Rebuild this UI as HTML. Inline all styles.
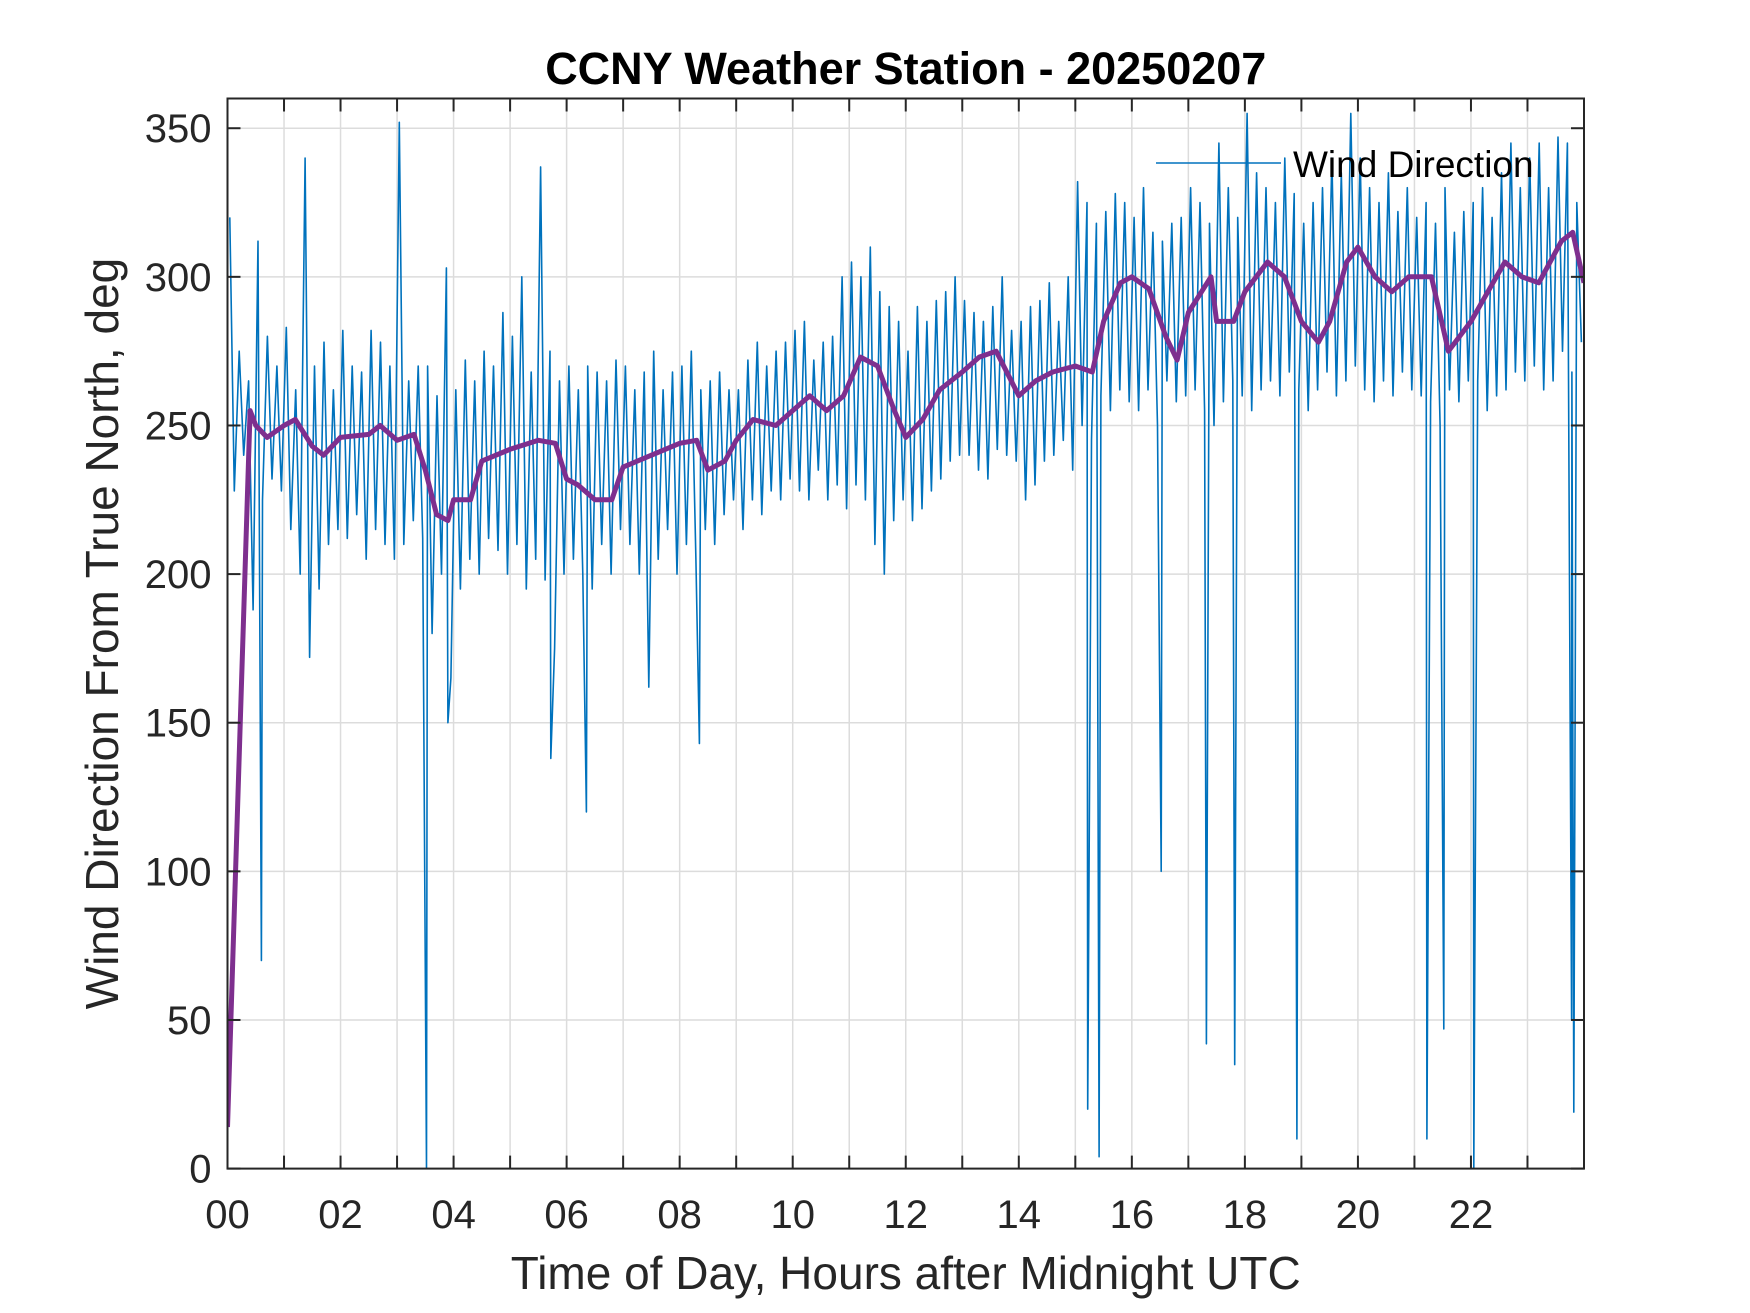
<!DOCTYPE html>
<html><head><meta charset="utf-8"><style>
html,body{margin:0;padding:0;background:#fff;}
svg{display:block;font-family:"Liberation Sans",Arial,sans-serif;}
</style></head><body>
<svg id="chart" width="1750" height="1313" viewBox="0 0 1750 1313"></svg>
<script>
const hourTicks=[0,2,4,6,8,10,12,14,16,18,20,22];
const hourTickLabels=["00","02","04","06","08","10","12","14","16","18","20","22"];
const yTicks=[0,50,100,150,200,250,300,350];
const windHi=[320,275,265,312,280,270, 283,262,340,270,278,262, 282,270,268,282,278,270, 352,265,270,270,260,303,
262,272,265,275,270,288, 280,300,268,337,275,265, 270,262,270,268,265,272, 270,262,268,275,262,268,
270,275,262,265,268,262, 262,272,278,270,275,278, 282,285,272,278,280,300, 305,300,310,295,290,285,
275,290,285,292,295,300, 292,288,285,290,300,282, 285,290,292,298,285,300, 332,325,318,322,328,325,
320,330,315,312,318,320, 330,325,318,345,330,320, 355,335,330,325,340,328, 318,325,330,340,335,355,
340,330,325,335,322,330, 320,325,318,330,315,322, 325,330,320,335,345,330, 340,345,330,347,345,325];
const windLo=[228,240,188,225,232,228, 215,200,172,195,210,215, 212,220,205,215,210,205, 210,218,212,180,200,165,
195,205,200,212,208,200, 210,195,205,198,175,200, 205,200,195,210,200,215, 210,200,162,205,215,200,
210,205,215,210,220,225, 215,225,220,228,225,232, 228,225,235,225,230,222, 230,225,210,200,218,225,
218,222,228,232,238,240, 240,235,232,242,240,238, 225,230,238,240,245,235, 250,245,260,255,262,258,
255,262,250,265,258,260, 262,255,250,258,265,260, 255,262,265,260,268,262, 255,262,268,260,265,270,
262,258,265,260,268,262, 260,258,250,262,258,265, 265,255,260,262,268,265, 270,262,265,275,268,278];
const spikeHours=[0.6,3.52,3.9,5.72,6.35,8.35,15.22,15.42,16.52,17.32,17.82,18.92,21.22,21.52,22.05,23.78,23.82];
const spikeValues=[70,0,150,138,120,143,20,4,100,42,35,10,10,47,0,50,19];
const meanHours=[0,0.4,0.5,0.7,1.0,1.2,1.5,1.7,2.0,2.5,2.7,3.0,3.3,3.5,3.7,3.9,4.0,4.3,4.5,5.0,5.5,5.8,6.0,6.2,6.5,6.8,7.0,7.5,8.0,8.3,8.5,8.8,9.0,9.3,9.7,10.0,10.3,10.6,10.9,11.2,11.5,11.8,12.0,12.3,12.6,13.0,13.3,13.6,14.0,14.3,14.6,15.0,15.3,15.5,15.8,16.0,16.3,16.6,16.8,17.0,17.4,17.5,17.8,18.0,18.4,18.7,19.0,19.3,19.5,19.8,20.0,20.3,20.6,20.9,21.3,21.6,21.8,22.0,22.3,22.6,22.9,23.2,23.6,23.8,24.0];
const meanValues=[14,255,250,246,250,252,243,240,246,247,250,245,247,235,220,218,225,225,238,242,245,244,232,230,225,225,236,240,244,245,235,238,245,252,250,255,260,255,260,273,270,255,246,252,262,268,273,275,260,265,268,270,268,285,298,300,296,280,272,288,300,285,285,295,305,300,285,278,285,305,310,300,295,300,300,275,280,285,295,305,300,298,312,315,298];

const L=227.5,R=1584,T=98.5,B=1168.6;
const xS=h=>L+(h/24)*(R-L);
const yS=v=>B-(v/360)*(B-T);
const svg=document.getElementById('chart');
const NS='http://www.w3.org/2000/svg';
function mk(tag,attrs,parent){const e=document.createElementNS(NS,tag);for(const k in attrs)e.setAttribute(k,attrs[k]);(parent||svg).appendChild(e);return e;}

const grid=mk('g',{});


for(let h=1;h<24;h++){mk('line',{x1:xS(h),x2:xS(h),y1:T,y2:B,stroke:'#dcdcdc','stroke-width':1.5},grid);}
yTicks.forEach(v=>{if(v>0)mk('line',{x1:L,x2:R,y1:yS(v),y2:yS(v),stroke:'#dcdcdc','stroke-width':1.5},grid);});

const pts=[];
for(let i=0;i<windHi.length;i++){const t0=i/6;pts.push([t0+0.04,windHi[i]]);pts.push([t0+0.12,windLo[i]]);}
for(let i=0;i<spikeHours.length;i++)pts.push([spikeHours[i],spikeValues[i]]);
pts.sort((a,b)=>a[0]-b[0]);
const clip=mk('clipPath',{id:'pc'});mk('rect',{x:L,y:T,width:R-L,height:B-T},clip);
const blue=mk('polyline',{points:pts.map(p=>xS(p[0]).toFixed(1)+','+yS(p[1]).toFixed(1)).join(' '),fill:'none',stroke:'#0072BD','stroke-width':1.6,'stroke-linejoin':'round','clip-path':'url(#pc)'});


const mean=mk('polyline',{points:meanHours.map((h,i)=>xS(h).toFixed(1)+','+yS(meanValues[i]).toFixed(1)).join(' '),fill:'none',stroke:'#7E2F8E','stroke-width':5,'stroke-linejoin':'round','clip-path':'url(#pc)'});



const ax=mk('g',{stroke:'#262626','stroke-width':2,fill:'none'});


mk('rect',{x:L,y:T,width:R-L,height:B-T},ax);
for(let h=1;h<24;h++){mk('line',{x1:xS(h),x2:xS(h),y1:B,y2:B-13},ax);mk('line',{x1:xS(h),x2:xS(h),y1:T,y2:T+13},ax);}
yTicks.forEach(v=>{mk('line',{x1:L,x2:L+13,y1:yS(v),y2:yS(v)},ax);mk('line',{x1:R,x2:R-13,y1:yS(v),y2:yS(v)},ax);});

hourTicks.forEach((h,i)=>{const t=mk('text',{x:xS(h),y:1228,'text-anchor':'middle','font-size':40,fill:'#262626'});t.textContent=hourTickLabels[i];

});
yTicks.forEach(v=>{const t=mk('text',{x:L-16,y:yS(v)+14,'text-anchor':'end','font-size':40,fill:'#262626'});t.textContent=v;

});

const title=mk('text',{x:(L+R)/2,y:84,'text-anchor':'middle','font-size':45,'font-weight':'bold',fill:'#000'});title.textContent='CCNY Weather Station - 20250207';


const xl=mk('text',{x:(L+R)/2,y:1289,'text-anchor':'middle','font-size':46,fill:'#262626'});xl.textContent='Time of Day, Hours after Midnight UTC';


const yl=mk('text',{x:0,y:0,'text-anchor':'middle','font-size':46,fill:'#262626',transform:'translate(118,'+((T+B)/2)+') rotate(-90)'});yl.textContent='Wind Direction From True North, deg';



const lg=mk('g',{});


mk('line',{x1:1156,x2:1281,y1:163,y2:163,stroke:'#0072BD','stroke-width':1.6},lg);
const lt=mk('text',{x:1293,y:177,'font-size':37,fill:'#000'},lg);lt.textContent='Wind Direction';
</script>
</body></html>
